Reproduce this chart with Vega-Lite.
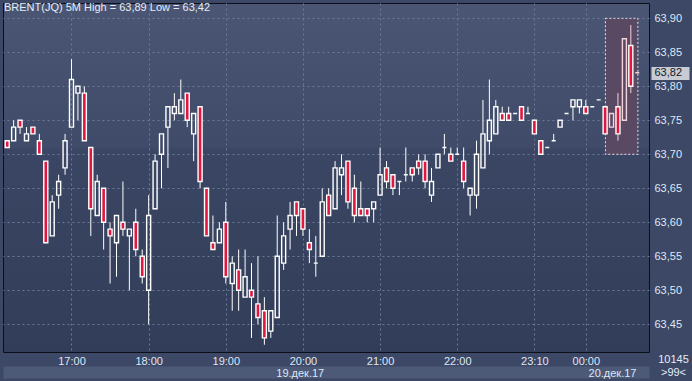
{
  "$schema": "https://vega.github.io/schema/vega-lite/v6.json",
  "width": 646,
  "height": 349,
  "autosize": {"type": "none"},
  "padding": {"left": 3, "top": 3, "right": 43, "bottom": 29},
  "background": "#3c4865",
  "config": {
    "font": "Liberation Sans Narrow, Liberation Sans",
    "view": {
      "fill": {"gradient": "linear", "x1": 0, "y1": 0, "x2": 0, "y2": 1,
        "stops": [
          {"offset": 0, "color": "#4a5673"},
          {"offset": 0.41, "color": "#3f4b68"},
          {"offset": 0.42, "color": "#3a4663"},
          {"offset": 1, "color": "#323d59"}
        ]},
      "stroke": "#0b0f1a",
      "strokeWidth": 1
    }
  },
  "title": {
    "text": "BRENT(JQ) 5M High = 63,89 Low = 63,42",
    "anchor": "start",
    "frame": "group",
    "orient": "top",
    "offset": 0,
    "dx": 1,
    "dy": 10,
    "fontSize": 11,
    "fontWeight": "normal",
    "color": "#e6edf8"
  },
  "data": {
    "values": [
      {"i":1,"o":63.72,"h":63.72,"l":63.71,"c":63.71},
      {"i":2,"o":63.72,"h":63.75,"l":63.72,"c":63.74},
      {"i":3,"o":63.75,"h":63.75,"l":63.73,"c":63.74},
      {"i":4,"o":63.72,"h":63.74,"l":63.72,"c":63.73},
      {"i":5,"o":63.74,"h":63.74,"l":63.73,"c":63.73},
      {"i":6,"o":63.72,"h":63.73,"l":63.70,"c":63.70},
      {"i":7,"o":63.69,"h":63.69,"l":63.57,"c":63.57},
      {"i":8,"o":63.58,"h":63.64,"l":63.58,"c":63.63},
      {"i":9,"o":63.64,"h":63.67,"l":63.62,"c":63.66},
      {"i":10,"o":63.68,"h":63.73,"l":63.67,"c":63.72},
      {"i":11,"o":63.74,"h":63.84,"l":63.74,"c":63.81},
      {"i":12,"o":63.79,"h":63.80,"l":63.75,"c":63.80},
      {"i":13,"o":63.79,"h":63.80,"l":63.72,"c":63.72},
      {"i":14,"o":63.71,"h":63.71,"l":63.58,"c":63.62},
      {"i":15,"o":63.61,"h":63.67,"l":63.61,"c":63.66},
      {"i":16,"o":63.65,"h":63.65,"l":63.56,"c":63.60},
      {"i":17,"o":63.59,"h":63.60,"l":63.51,"c":63.58},
      {"i":18,"o":63.57,"h":63.61,"l":63.52,"c":63.61},
      {"i":19,"o":63.60,"h":63.66,"l":63.58,"c":63.59},
      {"i":20,"o":63.58,"h":63.59,"l":63.50,"c":63.59},
      {"i":21,"o":63.60,"h":63.62,"l":63.55,"c":63.56},
      {"i":22,"o":63.55,"h":63.56,"l":63.51,"c":63.52},
      {"i":23,"o":63.50,"h":63.64,"l":63.45,"c":63.61},
      {"i":24,"o":63.62,"h":63.70,"l":63.62,"c":63.69},
      {"i":25,"o":63.70,"h":63.73,"l":63.65,"c":63.73},
      {"i":26,"o":63.74,"h":63.77,"l":63.68,"c":63.77},
      {"i":27,"o":63.76,"h":63.79,"l":63.75,"c":63.77},
      {"i":28,"o":63.76,"h":63.81,"l":63.76,"c":63.78},
      {"i":29,"o":63.79,"h":63.79,"l":63.74,"c":63.75},
      {"i":30,"o":63.73,"h":63.76,"l":63.69,"c":63.76},
      {"i":31,"o":63.77,"h":63.77,"l":63.65,"c":63.66},
      {"i":32,"o":63.65,"h":63.65,"l":63.58,"c":63.58},
      {"i":33,"o":63.57,"h":63.61,"l":63.56,"c":63.56},
      {"i":34,"o":63.57,"h":63.60,"l":63.57,"c":63.59},
      {"i":35,"o":63.60,"h":63.63,"l":63.51,"c":63.52},
      {"i":36,"o":63.51,"h":63.55,"l":63.47,"c":63.54},
      {"i":37,"o":63.53,"h":63.56,"l":63.47,"c":63.50},
      {"i":38,"o":63.49,"h":63.56,"l":63.49,"c":63.52},
      {"i":39,"o":63.50,"h":63.54,"l":63.43,"c":63.49},
      {"i":40,"o":63.48,"h":63.55,"l":63.45,"c":63.46},
      {"i":41,"o":63.47,"h":63.49,"l":63.42,"c":63.43},
      {"i":42,"o":63.44,"h":63.47,"l":63.43,"c":63.47},
      {"i":43,"o":63.46,"h":63.61,"l":63.46,"c":63.55},
      {"i":44,"o":63.54,"h":63.60,"l":63.53,"c":63.58},
      {"i":45,"o":63.59,"h":63.63,"l":63.56,"c":63.61},
      {"i":46,"o":63.63,"h":63.63,"l":63.58,"c":63.61},
      {"i":47,"o":63.62,"h":63.62,"l":63.58,"c":63.59},
      {"i":48,"o":63.57,"h":63.59,"l":63.54,"c":63.56},
      {"i":49,"o":63.54,"h":63.58,"l":63.52,"c":63.54},
      {"i":50,"o":63.55,"h":63.65,"l":63.55,"c":63.63},
      {"i":51,"o":63.64,"h":63.65,"l":63.61,"c":63.61},
      {"i":52,"o":63.62,"h":63.69,"l":63.62,"c":63.68},
      {"i":53,"o":63.67,"h":63.70,"l":63.64,"c":63.68},
      {"i":54,"o":63.69,"h":63.69,"l":63.62,"c":63.63},
      {"i":55,"o":63.65,"h":63.67,"l":63.60,"c":63.61},
      {"i":56,"o":63.62,"h":63.66,"l":63.61,"c":63.61},
      {"i":57,"o":63.62,"h":63.62,"l":63.60,"c":63.61},
      {"i":58,"o":63.62,"h":63.63,"l":63.60,"c":63.63},
      {"i":59,"o":63.64,"h":63.71,"l":63.64,"c":63.67},
      {"i":60,"o":63.68,"h":63.69,"l":63.65,"c":63.66},
      {"i":61,"o":63.67,"h":63.67,"l":63.64,"c":63.65},
      {"i":62,"o":63.66,"h":63.66,"l":63.64,"c":63.66},
      {"i":63,"o":63.67,"h":63.71,"l":63.66,"c":63.67},
      {"i":64,"o":63.68,"h":63.68,"l":63.66,"c":63.67},
      {"i":65,"o":63.69,"h":63.70,"l":63.67,"c":63.68},
      {"i":66,"o":63.69,"h":63.70,"l":63.65,"c":63.66},
      {"i":67,"o":63.64,"h":63.68,"l":63.63,"c":63.66},
      {"i":68,"o":63.68,"h":63.70,"l":63.68,"c":63.70},
      {"i":69,"o":63.71,"h":63.73,"l":63.70,"c":63.71},
      {"i":70,"o":63.70,"h":63.71,"l":63.69,"c":63.69},
      {"i":71,"o":63.70,"h":63.71,"l":63.70,"c":63.70},
      {"i":72,"o":63.69,"h":63.71,"l":63.65,"c":63.66},
      {"i":73,"o":63.64,"h":63.65,"l":63.61,"c":63.65},
      {"i":74,"o":63.64,"h":63.72,"l":63.62,"c":63.70},
      {"i":75,"o":63.68,"h":63.78,"l":63.68,"c":63.73},
      {"i":76,"o":63.72,"h":63.81,"l":63.70,"c":63.75},
      {"i":77,"o":63.73,"h":63.78,"l":63.73,"c":63.77},
      {"i":78,"o":63.76,"h":63.77,"l":63.75,"c":63.75},
      {"i":79,"o":63.76,"h":63.77,"l":63.75,"c":63.75},
      {"i":80,"o":63.76,"h":63.76,"l":63.76,"c":63.76},
      {"i":81,"o":63.77,"h":63.77,"l":63.75,"c":63.75},
      {"i":82,"o":63.76,"h":63.77,"l":63.76,"c":63.76},
      {"i":83,"o":63.75,"h":63.75,"l":63.73,"c":63.73},
      {"i":84,"o":63.72,"h":63.72,"l":63.70,"c":63.70},
      {"i":85,"o":63.71,"h":63.71,"l":63.71,"c":63.71},
      {"i":86,"o":63.72,"h":63.73,"l":63.72,"c":63.72},
      {"i":87,"o":63.74,"h":63.75,"l":63.74,"c":63.75},
      {"i":88,"o":63.76,"h":63.76,"l":63.76,"c":63.76},
      {"i":89,"o":63.77,"h":63.78,"l":63.75,"c":63.78},
      {"i":90,"o":63.77,"h":63.78,"l":63.76,"c":63.78},
      {"i":91,"o":63.77,"h":63.78,"l":63.76,"c":63.76},
      {"i":92,"o":63.77,"h":63.77,"l":63.77,"c":63.77},
      {"i":93,"o":63.78,"h":63.78,"l":63.78,"c":63.78},
      {"i":94,"o":63.77,"h":63.77,"l":63.73,"c":63.73},
      {"i":95,"o":63.74,"h":63.76,"l":63.74,"c":63.76},
      {"i":96,"o":63.77,"h":63.79,"l":63.72,"c":63.73},
      {"i":97,"o":63.75,"h":63.87,"l":63.75,"c":63.87},
      {"i":98,"o":63.86,"h":63.89,"l":63.79,"c":63.80},
      {"i":99,"o":63.82,"h":63.82,"l":63.82,"c":63.82}
    ]
  },
  "resolve": {"axis": {"x": "independent", "y": "independent"}},
  "layer": [
    {
      "data": {"values": [{"from": 94.05, "to": 99.1, "lo": 63.70, "hi": 63.90}]},
      "mark": {"type": "rect", "fill": "#594963", "stroke": "#e9e2ea", "strokeWidth": 1, "strokeDash": [2, 2], "clip": true},
      "encoding": {
        "x": {"field": "from", "type": "quantitative",
          "scale": {"domain": [1.123, 100.05], "nice": false, "zero": false},
          "axis": {"orient": "bottom", "offset": 20, "values": [46.5],
            "labels": false, "ticks": false, "tickSize": 0,
            "grid": false, "domain": true, "domainColor": "#4c5977", "domainWidth": 12,
            "title": null, "zindex": 1}},
        "x2": {"field": "to"},
        "y": {"field": "lo", "type": "quantitative",
          "scale": {"domain": [63.4093, 63.9225], "nice": false, "zero": false},
          "axis": {"orient": "right", "offset": 2, "values": [63.82],
            "labelExpr": "'63,82'", "ticks": true, "tickSize": 38, "tickWidth": 13, "tickColor": "#c6cbd4",
            "tickCap": "butt", "labelPadding": -35, "labelColor": "#15181f", "labelFontSize": 11,
            "labelBaseline": "middle", "grid": false, "domain": false, "labelFlush": false,
            "title": ">99<", "titleAngle": 0, "titleX": 22, "titleY": 369,
            "titleAlign": "center", "titleBaseline": "middle", "titleFontSize": 11,
            "titleFontWeight": "normal", "titleColor": "#e6edf8"}},
        "y2": {"field": "hi"}
      }
    },
    {
      "mark": {"type": "rule", "strokeWidth": 1, "clip": true},
      "encoding": {
        "x": {"field": "i", "type": "quantitative",
          "axis": {"orient": "bottom", "values": [11, 23, 35, 47, 59, 71, 83, 91],
            "labelExpr": "datum.value == 11 ? '17:00' : datum.value == 23 ? '18:00' : datum.value == 35 ? '19:00' : datum.value == 47 ? '20:00' : datum.value == 59 ? '21:00' : datum.value == 71 ? '22:00' : datum.value == 83 ? '23:10' : '00:00'",
            "grid": true, "gridColor": "#6d7a96", "gridDash": [2, 3], "gridWidth": 1,
            "ticks": false, "domain": false, "labelColor": "#dfe7f5", "labelFontSize": 11,
            "labelPadding": 3, "labelFlush": false, "labelOverlap": false, "title": null, "zindex": 0}},
        "y": {"field": "h", "type": "quantitative",
          "axis": {"orient": "right", "values": [63.45, 63.5, 63.55, 63.6, 63.65, 63.7, 63.75, 63.8, 63.85, 63.9],
            "labelExpr": "replace(format(datum.value, '.2f'), '.', ',')",
            "grid": true, "gridColor": "#6d7a96", "gridDash": [2, 3], "gridWidth": 1,
            "ticks": false, "domain": false, "labelColor": "#dfe7f5", "labelFontSize": 11,
            "labelPadding": 5, "labelBaseline": "middle", "labelFlush": false,
            "title": "10145", "titleAngle": 0, "titleX": 24, "titleY": 356,
            "titleAlign": "center", "titleBaseline": "middle", "titleFontSize": 11,
            "titleFontWeight": "normal", "titleColor": "#e6edf8", "zindex": 0}},
        "y2": {"field": "c"},
        "color": {"condition": {"test": "datum.i >= 94", "value": "#f6d3da"}, "value": "#ffffff"}
      }
    },
    {
      "mark": {"type": "rule", "strokeWidth": 1, "clip": true},
      "encoding": {
        "x": {"field": "i", "type": "quantitative",
          "axis": {"orient": "bottom", "offset": 20, "values": [46.5, 98.8],
            "labelExpr": "datum.value < 90 ? '19.дек.17' : '20.дек.17'",
            "labelAlign": {"condition": {"test": "datum.value > 90", "value": "right"}, "value": "center"},
            "labelBaseline": "middle", "labelPadding": 1, "ticks": false, "tickSize": 0,
            "grid": false, "domain": false,
            "labelColor": "#dfe7f5", "labelFontSize": 11, "labelFlush": false, "labelOverlap": false,
            "title": null, "zindex": 2}},
        "y": {"field": "l", "type": "quantitative", "axis": null},
        "y2": {"field": "o"},
        "color": {"condition": {"test": "datum.i >= 94", "value": "#f6d3da"}, "value": "#ffffff"}
      }
    },
    {
      "mark": {"type": "bar", "size": 4, "strokeWidth": 1.4, "clip": true},
      "encoding": {
        "x": {"field": "i", "type": "quantitative", "axis": null},
        "y": {"field": "o", "type": "quantitative", "axis": null},
        "y2": {"field": "c"},
        "fill": {"condition": {"test": "datum.c < datum.o", "value": "#e3163f"}, "value": "transparent"},
        "stroke": {"condition": {"test": "datum.i >= 94 && datum.c >= datum.o", "value": "#f6d3da"}, "value": "#ffffff"}
      }
    }
  ]
}
